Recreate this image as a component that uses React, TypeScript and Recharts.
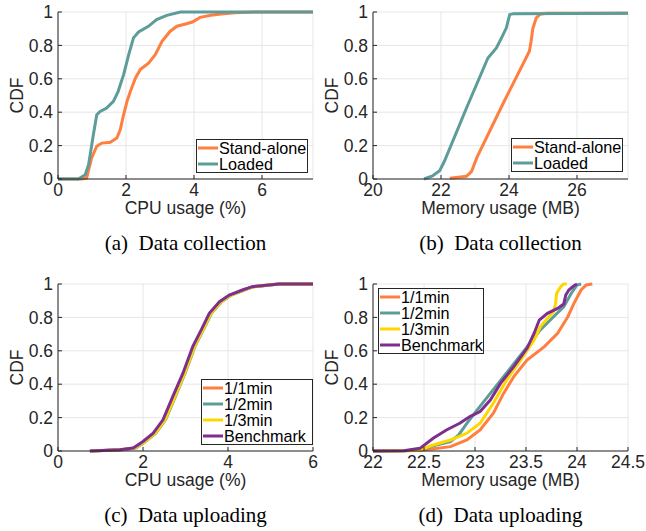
import { LineChart, Line, XAxis, YAxis, CartesianGrid, Legend, Label } from "recharts";

// ---- (a) CPU usage, data collection
const aStandX = [0, 0.7, 0.84, 0.89, 0.99, 1.14, 1.29, 1.54, 1.73, 1.83, 1.93, 2.03, 2.13, 2.28, 2.42, 2.67, 2.86, 3.06, 3.3, 3.5, 3.78, 3.95, 4.18, 4.5, 4.8, 5.2, 5.8, 7.5];
const aStandY = [0, 0, 0.005, 0.046, 0.126, 0.196, 0.215, 0.22, 0.245, 0.295, 0.385, 0.465, 0.525, 0.605, 0.655, 0.695, 0.745, 0.825, 0.885, 0.915, 0.93, 0.94, 0.968, 0.98, 0.988, 0.996, 1, 1];
const aLoadX = [0, 0.6, 0.8, 0.9, 1.04, 1.14, 1.24, 1.43, 1.63, 1.77, 1.93, 2.08, 2.22, 2.37, 2.66, 2.9, 3.2, 3.6, 7.5];
const aLoadY = [0, 0, 0.026, 0.086, 0.265, 0.385, 0.405, 0.425, 0.465, 0.525, 0.625, 0.745, 0.845, 0.88, 0.914, 0.955, 0.98, 1, 1];

// ---- (b) memory usage, data collection
const bStandX = [22.26, 22.75, 22.9, 23.05, 23.87, 24.6, 24.65, 24.7, 24.8, 24.9, 25.0, 25.1, 27.5];
const bStandY = [0.005, 0.016, 0.046, 0.126, 0.47, 0.765, 0.825, 0.9, 0.964, 0.984, 0.99, 0.993, 0.993];
const bLoadX = [21.5, 21.75, 21.96, 22.1, 22.75, 23.38, 23.63, 23.78, 23.92, 24.02, 24.13, 27.5];
const bLoadY = [0, 0.018, 0.05, 0.106, 0.425, 0.725, 0.785, 0.845, 0.904, 0.984, 0.99, 0.993];

// ---- (c) CPU usage, data uploading
const cLevels = [0, 0.008, 0.018, 0.057, 0.107, 0.187, 0.326, 0.466, 0.625, 0.725, 0.825, 0.894, 0.934, 0.964, 0.984, 1, 1];
const c1X = [0.75, 1.47, 1.8, 2.03, 2.27, 2.5, 2.73, 2.97, 3.2, 3.4, 3.59, 3.83, 4.06, 4.37, 4.6, 5.2, 6];
const c2X = [0.8, 1.5, 1.83, 2.06, 2.3, 2.53, 2.76, 2.99, 3.22, 3.42, 3.61, 3.85, 4.08, 4.38, 4.6, 5.2, 6];
const c3X = [0.8, 1.48, 1.81, 2.05, 2.29, 2.52, 2.75, 2.98, 3.21, 3.41, 3.6, 3.84, 4.07, 4.37, 4.6, 5.2, 6];
const cBenchX = [0.75, 1.45, 1.77, 2.0, 2.24, 2.47, 2.7, 2.94, 3.17, 3.37, 3.56, 3.8, 4.03, 4.34, 4.57, 5.2, 6];

// ---- (d) memory usage, data uploading
const d1X = [22, 22.3, 22.46, 22.76, 22.92, 23.05, 23.18, 23.28, 23.38, 23.51, 23.68, 23.81, 23.91, 23.97, 24.04, 24.09, 24.15];
const d1Y = [0, 0.001, 0.003, 0.026, 0.066, 0.126, 0.226, 0.345, 0.445, 0.545, 0.625, 0.705, 0.804, 0.884, 0.964, 0.994, 1];
const d2X = [22, 22.3, 22.46, 22.62, 22.76, 22.84, 22.92, 23.02, 23.15, 23.28, 23.41, 23.54, 23.64, 23.77, 23.87, 23.94, 24.0, 24.04];
const d2Y = [0, 0.002, 0.006, 0.036, 0.056, 0.096, 0.166, 0.245, 0.345, 0.445, 0.545, 0.645, 0.725, 0.804, 0.864, 0.94, 0.994, 1];
const d3X = [22, 22.3, 22.46, 22.59, 22.76, 22.92, 23.05, 23.18, 23.31, 23.45, 23.58, 23.64, 23.71, 23.77, 23.79, 23.8, 23.84, 23.87, 23.9];
const d3Y = [0, 0.002, 0.006, 0.036, 0.066, 0.106, 0.166, 0.286, 0.425, 0.545, 0.665, 0.744, 0.794, 0.834, 0.884, 0.944, 0.984, 1, 1];
const dBenchX = [22, 22.3, 22.46, 22.59, 22.72, 22.85, 22.95, 23.05, 23.15, 23.25, 23.38, 23.51, 23.58, 23.63, 23.71, 23.81, 23.87, 23.89, 23.92, 23.97, 24.0];
const dBenchY = [0, 0.002, 0.016, 0.076, 0.126, 0.166, 0.206, 0.236, 0.305, 0.405, 0.505, 0.615, 0.705, 0.784, 0.824, 0.854, 0.88, 0.934, 0.964, 0.99, 1];

const cdfTicks = [0, 0.2, 0.4, 0.6, 0.8, 1];
const cpuTicksA = [0, 2, 4, 6];
const memTicksB = [20, 22, 24, 26];
const cpuTicksC = [0, 2, 4, 6];
const memTicksD = [22, 22.5, 23, 23.5, 24, 24.5];

const ORANGE = "#FF7F40";
const TEAL = "#5C9C99";
const YELLOW = "#FFD700";
const PURPLE = "#7E2F8E";
const INK = "#262626";
const FONT = '"Liberation Sans", Arial, sans-serif';
const SERIF = '"Liberation Serif", "Times New Roman", serif';

const pts = (xs: number[], ys: number[]) => xs.map((x, i) => ({ x, y: ys[i] }));

type Series = { name: string; color: string; data: { x: number; y: number }[] };

function LegendBox({ items, width }: { items: Series[]; width: number }) {
  return (
    <div
      style={{
        boxSizing: "border-box",
        width,
        border: `1px solid ${INK}`,
        background: "#fff",
        fontFamily: FONT,
        fontSize: 16.2,
        lineHeight: "16px",
        color: "#000",
        whiteSpace: "nowrap",
      }}
    >
      {items.map((it) => (
        <div key={it.name} style={{ display: "flex", alignItems: "center", height: 16 }}>
          <svg width={22} height={16} style={{ flex: "none" }}>
            <line x1={1} x2={21} y1={8} y2={8} stroke={it.color} strokeWidth={3} />
          </svg>
          <span>{it.name}</span>
        </div>
      ))}
    </div>
  );
}

interface PanelProps {
  left: number;
  top: number;
  width: number;
  yAxisWidth: number;
  plotRight: number;
  xDomain: [number, number];
  xTicks: number[];
  xLabel: string;
  yLabelX: number;
  series: Series[];
  legend: { left: number; top: number; width: number };
  caption: string;
}

function Panel(p: PanelProps) {
  const H = 230;
  const tickStyle = { fill: INK, fontSize: 17.5, fontFamily: FONT };
  const plotCenter = (p.yAxisWidth + p.plotRight) / 2;
  return (
    <div style={{ position: "absolute", left: p.left, top: p.top, width: p.width, height: 250 }}>
      <LineChart width={p.width} height={H} margin={{ top: 12, right: p.width - p.plotRight, left: 0, bottom: 0 }}>
        <CartesianGrid stroke="#e6e6e6" strokeWidth={1} />
        <XAxis
          dataKey="x"
          type="number"
          domain={p.xDomain}
          ticks={p.xTicks}
          interval={0}
          allowDataOverflow
          height={51}
          tickSize={-4}
          tickMargin={9}
          stroke={INK}
          tick={tickStyle}
        >
          <Label
            content={({ viewBox }: any) => (
              <text x={viewBox.x + viewBox.width / 2} y={viewBox.y + 35} textAnchor="middle" fill={INK} fontSize={17.5} fontFamily={FONT}>
                {p.xLabel}
              </text>
            )}
          />
        </XAxis>
        <XAxis xAxisId="top" orientation="top" type="number" domain={p.xDomain} ticks={p.xTicks} interval={0} height={0} tick={false} tickSize={-4} stroke={INK} />
        <YAxis
          type="number"
          domain={[0, 1]}
          ticks={cdfTicks}
          interval={0}
          width={p.yAxisWidth}
          tickSize={-4}
          tickMargin={9}
          stroke={INK}
          tick={tickStyle}
        >
          <Label
            content={({ viewBox }: any) => {
              const cy = viewBox.y + viewBox.height / 2;
              return (
                <text x={p.yLabelX} y={cy} transform={`rotate(-90, ${p.yLabelX}, ${cy})`} textAnchor="middle" fill={INK} fontSize={17.5} fontFamily={FONT}>
                  CDF
                </text>
              );
            }}
          />
        </YAxis>
        <YAxis yAxisId="right" orientation="right" type="number" domain={[0, 1]} ticks={cdfTicks} interval={0} width={0} tick={false} tickSize={-4} stroke={INK} />
        {p.series.map((s) => (
          <Line
            key={s.name}
            data={s.data}
            dataKey="y"
            name={s.name}
            type="linear"
            stroke={s.color}
            strokeWidth={3}
            dot={false}
            activeDot={false}
            isAnimationActive={false}
          />
        ))}
        <Legend
          layout="horizontal"
          verticalAlign="middle"
          align="center"
          wrapperStyle={{ left: p.legend.left, top: p.legend.top, width: p.legend.width }}
          content={() => <LegendBox items={p.series} width={p.legend.width} />}
        />
      </LineChart>
      <div
        style={{
          position: "absolute",
          left: plotCenter - 150,
          width: 300,
          top: 233,
          textAlign: "center",
          fontFamily: SERIF,
          fontSize: 21,
          lineHeight: "21px",
          color: "#000",
          whiteSpace: "pre",
        }}
      >
        {p.caption}
      </div>
    </div>
  );
}

export default function App() {
  const aSeries: Series[] = [
    { name: "Stand-alone", color: ORANGE, data: pts(aStandX, aStandY) },
    { name: "Loaded", color: TEAL, data: pts(aLoadX, aLoadY) },
  ];
  const bSeries: Series[] = [
    { name: "Stand-alone", color: ORANGE, data: pts(bStandX, bStandY) },
    { name: "Loaded", color: TEAL, data: pts(bLoadX, bLoadY) },
  ];
  const cSeries: Series[] = [
    { name: "1/1min", color: ORANGE, data: pts(c1X, cLevels) },
    { name: "1/2min", color: TEAL, data: pts(c2X, cLevels) },
    { name: "1/3min", color: YELLOW, data: pts(c3X, cLevels) },
    { name: "Benchmark", color: PURPLE, data: pts(cBenchX, cLevels) },
  ];
  const dSeries: Series[] = [
    { name: "1/1min", color: ORANGE, data: pts(d1X, d1Y) },
    { name: "1/2min", color: TEAL, data: pts(d2X, d2Y) },
    { name: "1/3min", color: YELLOW, data: pts(d3X, d3Y) },
    { name: "Benchmark", color: PURPLE, data: pts(dBenchX, dBenchY) },
  ];

  return (
    <div style={{ position: "absolute", left: 0, top: 0, width: 646, height: 531, background: "#fff", overflow: "hidden" }}>
      <Panel
        left={0}
        top={0}
        width={330}
        yAxisWidth={58}
        plotRight={313}
        xDomain={[0, 7.5]}
        xTicks={cpuTicksA}
        xLabel="CPU usage (%)"
        yLabelX={23}
        series={aSeries}
        legend={{ left: 196, top: 139, width: 112 }}
        caption={"(a)  Data collection"}
      />
      <Panel
        left={318}
        top={0}
        width={328}
        yAxisWidth={55}
        plotRight={310}
        xDomain={[20, 27.5]}
        xTicks={memTicksB}
        xLabel="Memory usage (MB)"
        yLabelX={20}
        series={bSeries}
        legend={{ left: 193, top: 138, width: 112 }}
        caption={"(b)  Data collection"}
      />
      <Panel
        left={0}
        top={272}
        width={330}
        yAxisWidth={58}
        plotRight={313}
        xDomain={[0, 6]}
        xTicks={cpuTicksC}
        xLabel="CPU usage (%)"
        yLabelX={23}
        series={cSeries}
        legend={{ left: 201, top: 107, width: 112 }}
        caption={"(c)  Data uploading"}
      />
      <Panel
        left={318}
        top={272}
        width={328}
        yAxisWidth={55}
        plotRight={310}
        xDomain={[22, 24.5]}
        xTicks={memTicksD}
        xLabel="Memory usage (MB)"
        yLabelX={20}
        series={dSeries}
        legend={{ left: 60, top: 16, width: 106 }}
        caption={"(d)  Data uploading"}
      />
    </div>
  );
}
